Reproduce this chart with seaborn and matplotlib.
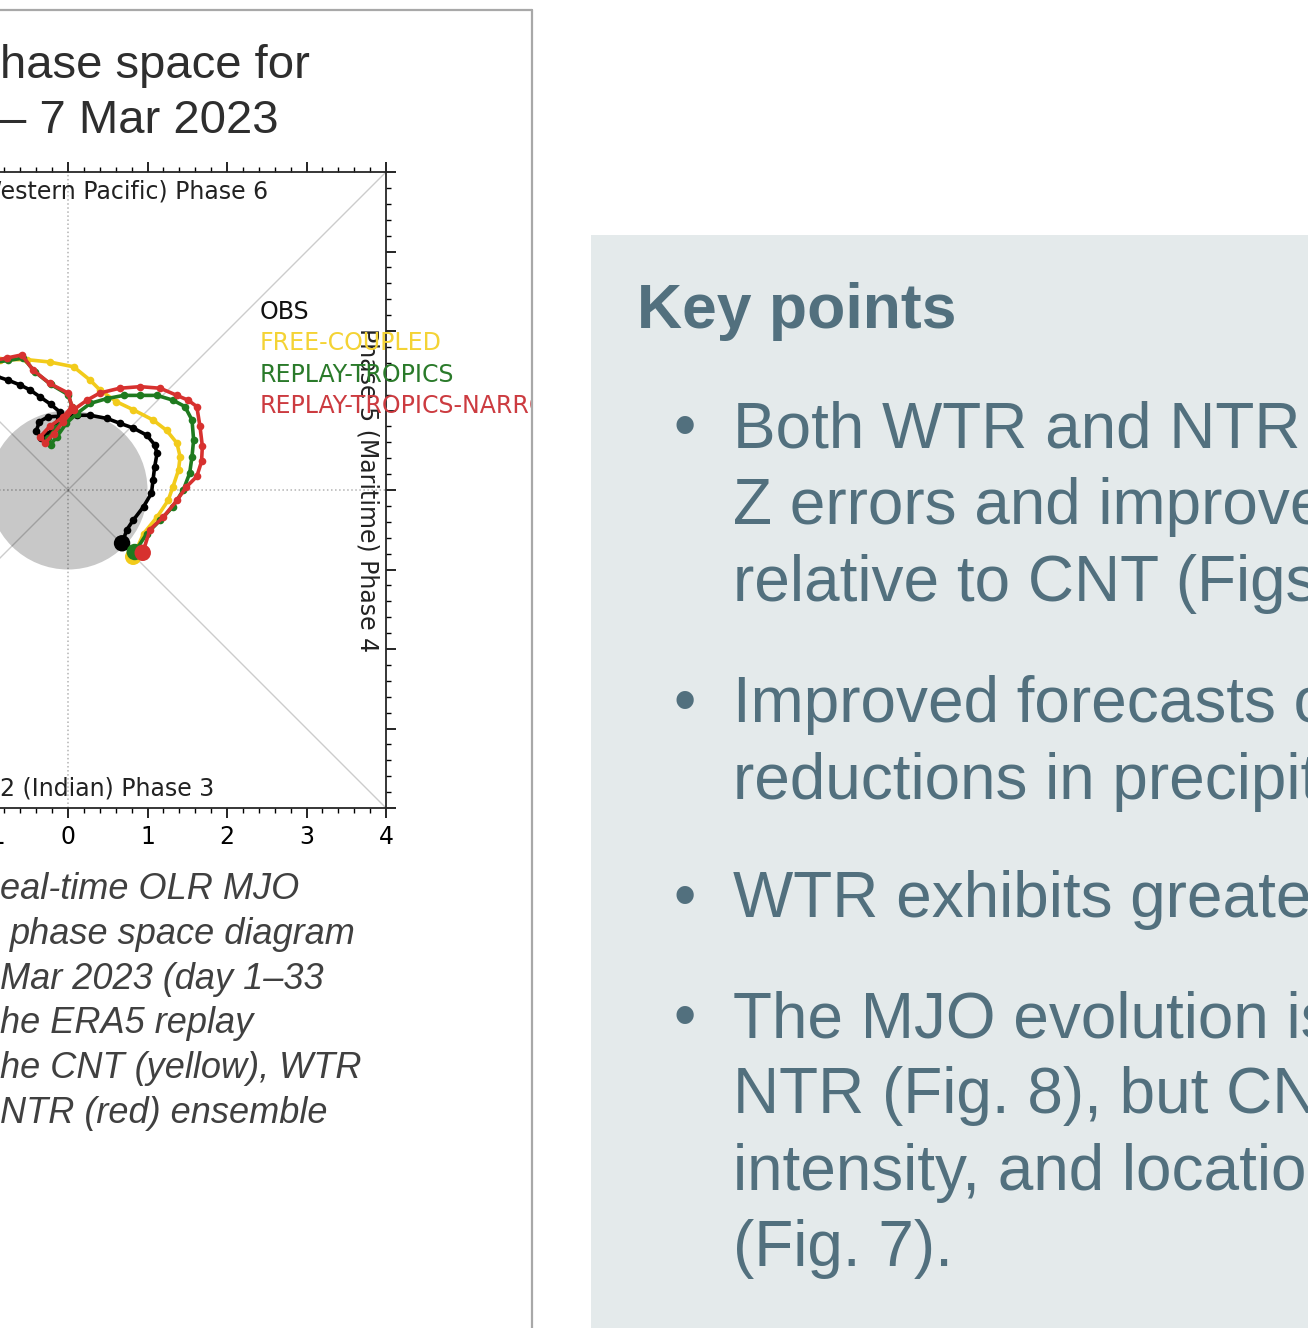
import numpy as np
import pandas as pd
import matplotlib
matplotlib.use('Agg')
import matplotlib.pyplot as plt
import seaborn as sns
from matplotlib.patches import Circle, Rectangle
from matplotlib.lines import Line2D
from matplotlib.ticker import MultipleLocator

# --- RMM1 / RMM2 trajectories (day 1 onwards) ---
obs_rmm1 = [0.68, 0.74, 0.82, 0.95, 1.05, 1.07, 1.09, 1.12, 1.09, 0.99, 0.82, 0.65, 0.49, 0.28,
            0.11, -0.08, -0.25, -0.36, -0.40, -0.34, -0.25, -0.15, -0.10, -0.22, -0.35, -0.48,
            -0.60, -0.75, -0.90, -1.10, -1.30, -1.50]
obs_rmm2 = [-0.67, -0.50, -0.38, -0.21, -0.04, 0.13, 0.29, 0.46, 0.57, 0.69, 0.78, 0.84, 0.90, 0.94,
            0.94, 0.93, 0.92, 0.86, 0.74, 0.66, 0.70, 0.82, 0.98, 1.08, 1.17, 1.26,
            1.32, 1.38, 1.43, 1.50, 1.55, 1.60]

cnt_rmm1 = [0.82, 0.95, 1.12, 1.26, 1.32, 1.39, 1.41, 1.37, 1.24, 1.07, 0.82, 0.61, 0.40, 0.28,
            0.07, -0.23, -0.52, -0.86, -1.10, -1.35]
cnt_rmm2 = [-0.84, -0.55, -0.34, -0.13, 0.04, 0.25, 0.42, 0.59, 0.75, 0.88, 1.01, 1.11, 1.26, 1.38,
            1.55, 1.61, 1.64, 1.64, 1.62, 1.58]

wtr_rmm1 = [0.84, 0.99, 1.16, 1.32, 1.45, 1.53, 1.56, 1.58, 1.56, 1.47, 1.32, 1.12, 0.91, 0.70,
            0.49, 0.28, 0.11, -0.02, -0.14, -0.22, -0.25, -0.15, -0.02, 0.05, 0.00, -0.22,
            -0.42, -0.56, -0.75, -0.95]
wtr_rmm2 = [-0.78, -0.55, -0.38, -0.21, 0.00, 0.21, 0.42, 0.63, 0.88, 1.05, 1.13, 1.19, 1.19, 1.19,
            1.15, 1.09, 0.96, 0.84, 0.67, 0.57, 0.65, 0.78, 0.92, 1.05, 1.20, 1.33,
            1.49, 1.66, 1.63, 1.60]

ntr_rmm1 = [0.94, 1.03, 1.20, 1.37, 1.49, 1.62, 1.68, 1.69, 1.66, 1.62, 1.51, 1.37, 1.16, 0.91,
            0.65, 0.40, 0.24, 0.07, -0.06, -0.18, -0.29, -0.35, -0.23, -0.06, 0.05, 0.00,
            -0.23, -0.44, -0.58, -0.77, -0.98]
ntr_rmm2 = [-0.79, -0.50, -0.34, -0.13, 0.04, 0.17, 0.36, 0.55, 0.80, 1.05, 1.13, 1.19, 1.28, 1.30,
            1.28, 1.22, 1.13, 1.01, 0.86, 0.71, 0.59, 0.67, 0.80, 0.92, 1.05, 1.22,
            1.34, 1.51, 1.70, 1.66, 1.62]

series_names = ['OBS', 'FREE-COUPLED', 'REPLAY-TROPICS', 'REPLAY-TROPICS-NARROW']
series_colors = ['black', '#F2CB1B', '#1F7A1F', '#D7312F']
label_colors = ['#111111', '#F4D335', '#2A7A2A', '#CC3B40']

caption_lines = ['eal-time OLR MJO', 'phase space diagram', 'Mar 2023 (day 1\u201333',
                 'he ERA5 replay', 'he CNT (yellow), WTR', 'NTR (red) ensemble']
title_lines = ['hase space for', '\u2013 7 Mar 2023']

key_title = 'Key points'
bullets = [
    ['Both WTR and NTR', 'Z errors and improved', 'relative to CNT (Figs.'],
    ['Improved forecasts of', 'reductions in precipitation'],
    ['WTR exhibits greater'],
    ['The MJO evolution is', 'NTR (Fig. 8), but CNT', 'intensity, and location', '(Fig. 7).'],
]

# -------------------------------
# table for seaborn
# -------------------------------
frames = []
for name, xs, ys in zip(series_names,
                        [obs_rmm1, cnt_rmm1, wtr_rmm1, ntr_rmm1],
                        [obs_rmm2, cnt_rmm2, wtr_rmm2, ntr_rmm2]):
    frames.append(pd.DataFrame({'name': name, 'day': np.arange(1, len(xs) + 1),
                                'rmm1': xs, 'rmm2': ys}))
df = pd.concat(frames, ignore_index=True)
starts = df[df['day'] == 1]
palette = dict(zip(series_names, series_colors))

sns.set_style('ticks')
plt.rcParams['font.family'] = ['DejaVu Sans']

W, H = 1308, 1328
fig = plt.figure(figsize=(W / 100, H / 100), dpi=100)

# axes extend past the left edge (the slide was cropped)
ax_left, ax_right, ax_top, ax_bot = -250, 386, 172, 808
ax = fig.add_axes([ax_left / W, 1 - ax_bot / H, (ax_right - ax_left) / W, (ax_bot - ax_top) / H])
ax.set_xlim(-4, 4)
ax.set_ylim(-4, 4)

ax.add_patch(Circle((0, 0), 1, facecolor='#C8C8C8', edgecolor='none', zorder=0))
ax.axline((0, 0), slope=1, color='black', alpha=0.2, lw=1, zorder=0.5)
ax.axline((0, 0), slope=-1, color='black', alpha=0.2, lw=1, zorder=0.5)
ax.axhline(0, color='black', alpha=0.3, lw=1.1, ls=':', zorder=0.5)
ax.axvline(0, color='black', alpha=0.3, lw=1.1, ls=':', zorder=0.5)

sns.lineplot(data=df, x='rmm1', y='rmm2', hue='name', hue_order=series_names, palette=palette,
             sort=False, estimator=None, marker='o', markersize=5.5, markeredgewidth=0,
             linewidth=2.6, legend=False, ax=ax)
sns.scatterplot(data=starts, x='rmm1', y='rmm2', hue='name', hue_order=series_names,
                palette=palette, s=140, linewidth=0, legend=False, zorder=5, ax=ax)
ax.set_xlabel('')
ax.set_ylabel('')

ax.xaxis.set_major_locator(MultipleLocator(1))
ax.yaxis.set_major_locator(MultipleLocator(1))
ax.xaxis.set_minor_locator(MultipleLocator(0.2))
ax.yaxis.set_minor_locator(MultipleLocator(0.2))
ax.tick_params(which='both', direction='out', top=True, right=True, labelsize=17,
               labelright=False, labeltop=False, colors='black')
ax.tick_params(which='major', length=7, width=1.2, pad=5)
ax.tick_params(which='minor', length=3.5, width=1)
for sp in ax.spines.values():
    sp.set_linewidth(1.3)
    sp.set_visible(True)

ax.text(2.52, 3.76, 'Phase 7 (Western Pacific) Phase 6', ha='right', va='center', fontsize=17, color='#222222')
ax.text(1.84, -3.76, 'Phase 2 (Indian) Phase 3', ha='right', va='center', fontsize=17, color='#222222')
ax.text(3.77, 0, 'Phase 5 (Maritime) Phase 4', rotation=270, ha='center', va='center',
        fontsize=17, color='#222222')

for i, (name, col) in enumerate(zip(series_names, label_colors)):
    ax.text(2.415, 2.24 - i * 0.395, name, color=col, fontsize=17, ha='left', va='center', clip_on=False)

# -------------------------------
# slide decoration
# -------------------------------
fig.add_artist(Rectangle((533 / W, 0), (591 - 533) / W, 1, transform=fig.transFigure,
                         facecolor='white', edgecolor='none', zorder=10))
fig.add_artist(Line2D([0, 532 / W], [1 - 10 / H, 1 - 10 / H], transform=fig.transFigure,
                      color='#A8A8A8', lw=1.6, zorder=11))
fig.add_artist(Line2D([532 / W, 532 / W], [0, 1 - 10 / H], transform=fig.transFigure,
                      color='#A8A8A8', lw=1.6, zorder=11))

slide_font = 'Liberation Sans'
for txt, base in zip(title_lines, [78, 133]):
    fig.text(0, 1 - base / H, txt, fontsize=34, color='#2E2E2E', family=slide_font,
             ha='left', va='baseline')
for i, txt in enumerate(caption_lines):
    x0 = 10 if txt.startswith('phase') else 0
    fig.text(x0 / W, 1 - (899 + i * 44.8) / H, txt, fontsize=26, style='italic', color='#404040',
             family=slide_font, ha='left', va='baseline')

fig.add_artist(Rectangle((591 / W, 0), (W - 591) / W, 1 - 235 / H, transform=fig.transFigure,
                         facecolor='#E4EAEB', edgecolor='none', zorder=10))
text_col = '#52707E'
fig.text(637 / W, 1 - 328 / H, key_title, fontsize=45, fontweight='bold', color=text_col,
         family=slide_font, ha='left', va='baseline', zorder=12)
bullet_baselines = [[447, 524, 601], [722, 799], [917], [1037, 1113, 1190, 1266]]
for lines, bases in zip(bullets, bullet_baselines):
    fig.text(685 / W, 1 - bases[0] / H, '\u2022', fontsize=46, color=text_col, family=slide_font,
             ha='center', va='baseline', zorder=12)
    for txt, b in zip(lines, bases):
        fig.text(733 / W, 1 - b / H, txt, fontsize=46, color=text_col, family=slide_font,
                 ha='left', va='baseline', zorder=12)

fig.savefig('out.png', dpi=100)
